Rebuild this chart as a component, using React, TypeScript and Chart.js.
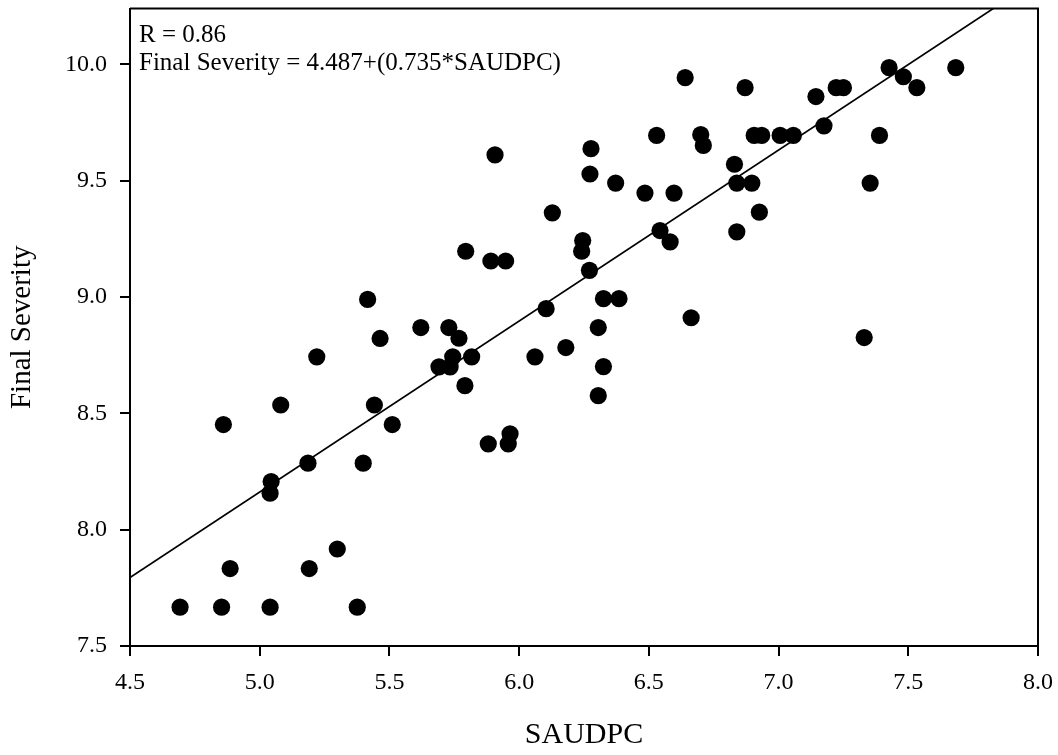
import React, { useEffect, useRef } from "react";
import { Chart, registerables } from "chart.js";

Chart.register(...registerables);

// SAUDPC (x) values of the observations
const saudpc = [
  4.693, 4.853, 5.04, 5.376, 4.886, 5.191, 5.299, 4.86, 5.081, 5.044,
  5.04, 5.186, 5.399, 5.22, 5.442, 5.511, 5.881, 5.958, 5.965, 5.464,
  5.621, 5.729, 5.768, 5.691, 5.734, 5.744, 5.817, 5.791, 5.416, 6.104,
  6.061, 6.18, 5.907, 5.794, 5.891, 5.948, 6.128, 6.277, 6.273, 6.245,
  6.241, 6.271, 6.64, 6.871, 7.426, 7.683, 7.481, 7.533, 7.144, 7.222,
  7.25, 7.175, 7.389, 6.53, 6.7, 6.71, 6.906, 6.935, 7.006, 7.057,
  6.372, 6.485, 6.597, 6.83, 6.839, 6.897, 7.353, 6.926, 6.839, 6.543,
  6.582, 6.325, 6.385, 6.663, 6.305, 7.33, 6.325, 6.305,
];

// Final Severity (y) values of the observations
const finalSeverity = [
  7.667, 7.667, 7.667, 7.667, 7.833, 7.833, 7.917, 8.452, 8.536, 8.207,
  8.157, 8.286, 8.286, 8.743, 8.536, 8.452, 8.369, 8.369, 8.412, 8.822,
  8.869, 8.869, 8.823, 8.7, 8.7, 8.743, 8.743, 8.619, 8.99, 8.95,
  8.743, 8.783, 9.611, 9.197, 9.155, 9.155, 9.362, 9.638, 9.529, 9.243,
  9.197, 9.115, 9.943, 9.9, 9.986, 9.986, 9.947, 9.9, 9.862, 9.9,
  9.9, 9.736, 9.695, 9.695, 9.698, 9.652, 9.695, 9.695, 9.695, 9.695,
  9.49, 9.447, 9.447, 9.571, 9.49, 9.49, 9.49, 9.365, 9.28, 9.286,
  9.237, 8.993, 8.993, 8.911, 8.869, 8.826, 8.701, 8.576,
];

// Regression
const intercept = 4.487;
const slope = 0.735;
const rValue = "0.86";

// Axes
const xMin = 4.5;
const xMax = 8.0;
const yMin = 7.5;
const yMax = 10.24;
const tickStep = 0.5;

const xTitle = "SAUDPC";
const yTitle = "Final Severity";

const FONT = '"Liberation Serif", "Times New Roman", serif';

const framePlugin = {
  id: "frameAndNotes",
  afterDraw(chart: any) {
    const { ctx, chartArea } = chart;
    const { left, top, right, bottom } = chartArea;
    ctx.save();
    ctx.strokeStyle = "#000";
    ctx.lineWidth = 2;
    ctx.beginPath();
    ctx.moveTo(left, top);
    ctx.lineTo(right, top);
    ctx.lineTo(right, bottom);
    ctx.stroke();
    ctx.fillStyle = "#000";
    ctx.font = `25px ${FONT}`;
    ctx.textAlign = "left";
    ctx.textBaseline = "alphabetic";
    ctx.fillText(`R = ${rValue}`, left + 9, top + 33);
    ctx.fillText(
      `Final Severity = ${intercept}+(${slope}*SAUDPC)`,
      left + 9,
      top + 61
    );
    ctx.restore();
  },
};

export default function App() {
  const canvasRef = useRef<HTMLCanvasElement | null>(null);

  useEffect(() => {
    document.body.style.margin = "0";
    const canvas = canvasRef.current;
    if (!canvas) return;

    const points = saudpc.map((x, i) => ({ x, y: finalSeverity[i] }));
    const line = [xMin, xMax].map((x) => ({ x, y: intercept + slope * x }));

    const chart = new Chart(canvas, {
      type: "scatter",
      data: {
        datasets: [
          {
            label: "Observations",
            data: points,
            backgroundColor: "#000",
            borderColor: "#000",
            borderWidth: 0,
            pointRadius: 8.6,
            pointHoverRadius: 8.6,
          },
          {
            label: "Regression",
            data: line,
            showLine: true,
            borderColor: "#000",
            borderWidth: 1.7,
            pointRadius: 0,
            fill: false,
          },
        ],
      },
      options: {
        responsive: false,
        animation: false,
        events: [],
        layout: { padding: { top: 8, right: 20, left: 0, bottom: 0 } },
        plugins: {
          legend: { display: false },
          tooltip: { enabled: false },
        },
        scales: {
          x: {
            type: "linear",
            min: xMin,
            max: xMax,
            afterFit: (scale: any) => {
              scale.height = 109;
              scale.paddingLeft = 0;
              scale.paddingRight = 0;
            },
            ticks: {
              stepSize: tickStep,
              includeBounds: false,
              color: "#000",
              padding: 12,
              font: { family: FONT, size: 24 },
              callback: (v: any) => Number(v).toFixed(1),
            },
            grid: {
              drawOnChartArea: false,
              drawTicks: true,
              tickLength: 10,
              color: "#000",
              lineWidth: 2,
            },
            border: { display: true, color: "#000", width: 2 },
            title: {
              display: true,
              text: xTitle,
              color: "#000",
              font: { family: FONT, size: 30 },
              padding: { top: 0, bottom: 2 },
            },
          },
          y: {
            type: "linear",
            min: yMin,
            max: yMax,
            afterFit: (scale: any) => {
              scale.width = 130;
              scale.paddingTop = 0;
              scale.paddingBottom = 0;
            },
            ticks: {
              stepSize: tickStep,
              includeBounds: false,
              color: "#000",
              padding: 13,
              font: { family: FONT, size: 24 },
              callback: (v: any) => Number(v).toFixed(1),
            },
            grid: {
              drawOnChartArea: false,
              drawTicks: true,
              tickLength: 10,
              color: "#000",
              lineWidth: 2,
            },
            border: { display: true, color: "#000", width: 2 },
            title: {
              display: true,
              text: yTitle,
              color: "#000",
              font: { family: FONT, size: 29 },
              padding: { top: 5, bottom: 0 },
            },
          },
        },
      },
      plugins: [framePlugin],
    });

    return () => {
      chart.destroy();
    };
  }, []);

  return (
    <div
      style={{
        position: "absolute",
        left: 0,
        top: 0,
        width: 1058,
        height: 755,
        background: "#fff",
      }}
    >
      <canvas
        ref={canvasRef}
        width={1058}
        height={755}
        style={{ display: "block", width: 1058, height: 755 }}
      />
    </div>
  );
}
